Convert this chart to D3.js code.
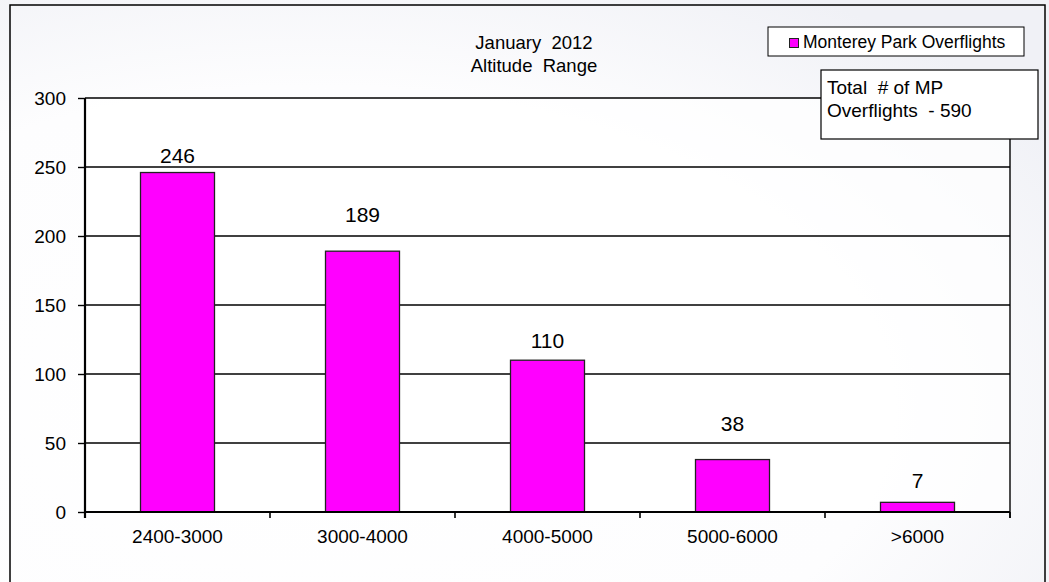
<!DOCTYPE html>
<html><head><meta charset="utf-8">
<script src="https://cdn.jsdelivr.net/npm/d3@7"></script>
<style>body{margin:0;background:#fff;}svg{display:block;font-family:"Liberation Sans",Arial,sans-serif;}</style>
</head><body><svg id="c" width="1049" height="582"></svg>
<script>
const categories = ["2400-3000","3000-4000","4000-5000","5000-6000",">6000"];
const values = [246,189,110,38,7];
const yTicks = [0,50,100,150,200,250,300];
const titleLines = ["January  2012","Altitude  Range"];
const seriesName = "Monterey Park Overflights";
const noteLines = ["Total  # of MP","Overflights  - 590"];

const svg = d3.select("#c");
const W = 1049, H = 582;
const defs = svg.append("defs");
const g = defs.append("radialGradient").attr("id","bg").attr("cx","30%").attr("cy","70%").attr("r","85%");
g.append("stop").attr("offset","0%").attr("stop-color","#ffffff");
g.append("stop").attr("offset","65%").attr("stop-color","#fdfdfe");
g.append("stop").attr("offset","100%").attr("stop-color","#f0f1f6");
svg.append("rect").attr("width",W).attr("height",H).attr("fill","url(#bg)");

// outer frame
svg.append("rect").attr("x",10).attr("y",5).attr("width",1035).attr("height",590)
  .attr("fill","none").attr("stroke","#000").attr("stroke-width",1.5);

const L = 85, R = 1010, T = 98, B = 512;
const x = d3.scaleBand().domain(categories).range([L,R]).paddingInner(0).paddingOuter(0);
const y = d3.scaleLinear().domain([0,300]).range([B,T]);

// plot area
svg.append("rect").attr("x",L).attr("y",T).attr("width",R-L).attr("height",B-T).attr("fill","#fff").attr("fill-opacity",0.7);

// gridlines
svg.append("g").selectAll("line").data(yTicks.filter(d=>d>0)).join("line")
  .attr("x1",L).attr("x2",R).attr("y1",d=>y(d)).attr("y2",d=>y(d))
  .attr("stroke","#000").attr("stroke-width",1.4);
// right border
svg.append("line").attr("x1",R).attr("x2",R).attr("y1",T).attr("y2",B+6).attr("stroke","#000").attr("stroke-width",1.4);

// bars
const bw = x.bandwidth()*0.4;
svg.append("g").selectAll("rect").data(values).join("rect")
  .attr("x",(d,i)=>x(categories[i])+x.bandwidth()/2-bw/2)
  .attr("y",d=>y(d)).attr("width",bw).attr("height",d=>B-y(d))
  .attr("fill","#ff00ff").attr("stroke","#222").attr("stroke-width",1.3);

// value labels
const labelGap = [10,29,12,29,14];
svg.append("g").selectAll("text").data(values).join("text")
  .attr("x",(d,i)=>x(categories[i])+x.bandwidth()/2)
  .attr("y",(d,i)=>y(d)-labelGap[i])
  .attr("text-anchor","middle").attr("font-size",21).attr("fill","#000").text(d=>d);

// y axis
const yAx = svg.append("g").attr("transform",`translate(${L},0)`)
  .call(d3.axisLeft(y).tickValues(yTicks).tickSize(7).tickPadding(12).tickFormat(d3.format("d")));
yAx.select(".domain").remove();
yAx.selectAll(".tick line").attr("stroke","#000").attr("stroke-width",1.4);
yAx.selectAll("text").attr("font-size",19).attr("font-family","Liberation Sans, Arial, sans-serif").attr("fill","#000");
svg.append("line").attr("x1",L).attr("x2",L).attr("y1",T).attr("y2",B+6).attr("stroke","#000").attr("stroke-width",2.2);

// x axis
const boundaries = categories.map(c=>x(c)).concat([R]);
svg.append("g").selectAll("line").data(boundaries).join("line")
  .attr("x1",d=>d).attr("x2",d=>d).attr("y1",B).attr("y2",B+6).attr("stroke","#000").attr("stroke-width",1.6);
svg.append("line").attr("x1",L).attr("x2",R).attr("y1",B).attr("y2",B).attr("stroke","#000").attr("stroke-width",2.2);
svg.append("g").selectAll("text").data(categories).join("text")
  .attr("x",d=>x(d)+x.bandwidth()/2).attr("y",543)
  .attr("text-anchor","middle").attr("font-size",19).attr("fill","#000").text(d=>d);

// title
svg.append("g").selectAll("text").data(titleLines).join("text")
  .attr("x",534).attr("y",(d,i)=>49+i*23).attr("text-anchor","middle")
  .attr("font-size",18.5).attr("fill","#000").style("white-space","pre").attr("xml:space","preserve").text(d=>d);

// legend
svg.append("rect").attr("x",768).attr("y",27).attr("width",256).attr("height",29)
  .attr("fill","#fff").attr("stroke","#000").attr("stroke-width",1);
svg.append("rect").attr("x",789.5).attr("y",38.5).attr("width",9).attr("height",9)
  .attr("fill","#ff00ff").attr("stroke","#222").attr("stroke-width",1);
svg.append("text").attr("x",803).attr("y",48).attr("font-size",17.5).attr("fill","#000").text(seriesName);

// note box
svg.append("rect").attr("x",821).attr("y",70).attr("width",217).attr("height",69)
  .attr("fill","#fff").attr("stroke","#000").attr("stroke-width",1.2);
svg.append("g").selectAll("text").data(noteLines).join("text")
  .attr("x",827).attr("y",(d,i)=>94+i*23).attr("font-size",19).attr("fill","#000")
  .style("white-space","pre").attr("xml:space","preserve").text(d=>d);
</script></body></html>
